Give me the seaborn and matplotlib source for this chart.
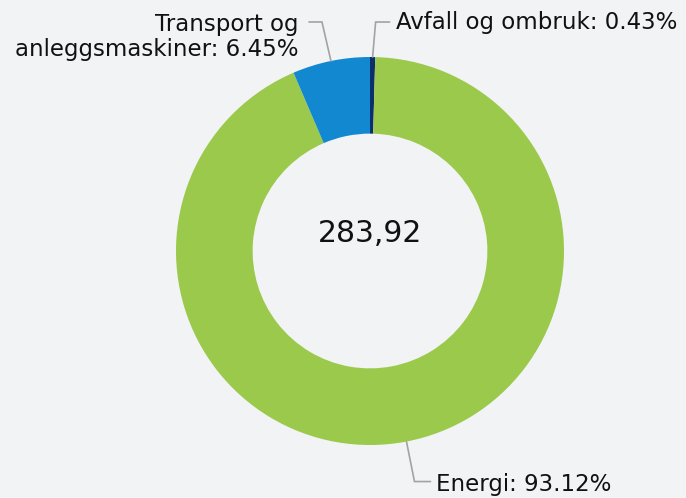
import numpy as np
import matplotlib
matplotlib.use("Agg")
import matplotlib.pyplot as plt
import seaborn as sns

# data (clockwise from 12 o'clock)
labels = ["Avfall og ombruk", "Energi", "Transport og\nanleggsmaskiner"]
shares = [0.43, 93.12, 6.45]
colors = ["#0c2f6c", "#9bc94b", "#1288d1"]
total_label = "283,92"

bg = "#f2f3f5"
sns.set_theme(style="white", rc={"axes.facecolor": bg, "figure.facecolor": bg})
plt.rcParams["font.family"] = ["DejaVu Sans"]

W, H = 686, 498
fig = plt.figure(figsize=(W / 100, H / 100), dpi=100)
ax = fig.add_axes([0, 0, 1, 1])

cx, cy, r = 370, H - 251, 194
ring = 0.395
wedges, _ = ax.pie(shares, colors=colors, startangle=90, counterclock=False,
                   center=(cx, cy), radius=r, frame=True,
                   wedgeprops=dict(width=r * ring, linewidth=0))
ax.set_xlim(0, W)
ax.set_ylim(0, H)
ax.axis("off")

ax.text(cx, H - 233, total_label, ha="center", va="center", fontsize=21.5, color="#111111")

# label placement: elbow offset from wedge edge, then horizontal tail
# (dx_elbow, dy_elbow, tail length, side)
layout = [(3, 35, 14, "right"), (8, -40, 16, "right"), (-9, 39, -13, "left")]
cum = 0
for lab, val, (dx, dy, tail, side) in zip(labels, shares, layout):
    mid = np.deg2rad((cum + val / 2) / 100 * 360)
    cum += val
    ex, ey = cx + r * np.sin(mid), cy + r * np.cos(mid)
    kx, ky = ex + dx, ey + dy
    tx = kx + tail
    ax.plot([ex, kx, tx], [ey, ky, ky], color="#a3a3a3", lw=1.2, solid_joinstyle="miter")
    text = f"{lab}: {val:.2f}%"
    if side == "right":
        ax.text(tx + 6, ky - (3 if dy < 0 else 0), text, ha="left", va="center",
                fontsize=16.5, color="#111111")
    else:
        ax.text(tx - 10, ky - 15, text, ha="right", va="center", fontsize=16.5,
                color="#111111", linespacing=1.12)

fig.savefig("out.png", dpi=100, facecolor=bg)
